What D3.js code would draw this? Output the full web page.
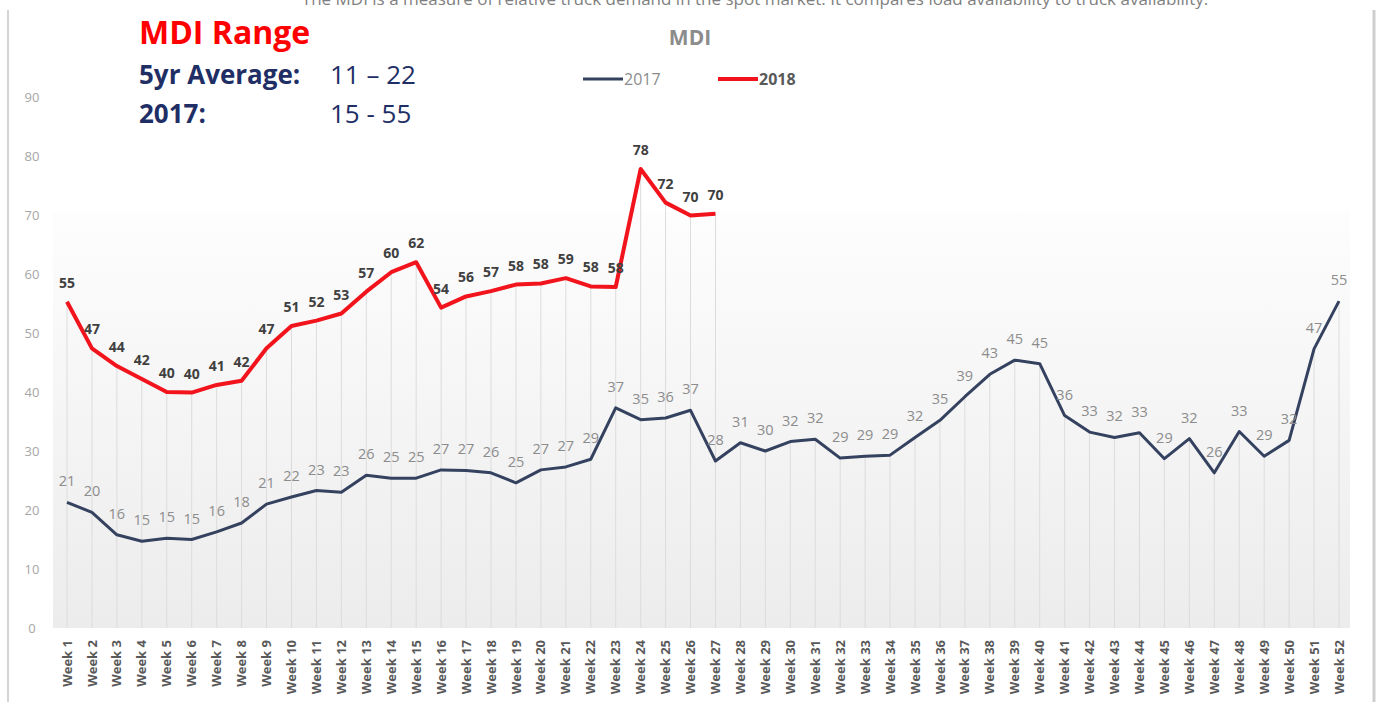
<!DOCTYPE html>
<html>
<head>
<meta charset="utf-8">
<script src="https://cdn.jsdelivr.net/npm/d3@7"></script>
<style>
  body { margin: 0; background: #fff; }
  svg { display: block; font-family: "Open Sans", sans-serif; }
</style>
</head>
<body>
<div id="chart-container"></div>
<script>
// data
var weeks = d3.range(1, 53).map(function(i) { return "Week " + i; });
var mdi2017 = [21.3, 19.6, 15.8, 14.7, 15.2, 15.0, 16.3, 17.8, 21.0, 22.2, 23.3, 23.0, 25.9, 25.4, 25.4, 26.8,
  26.7, 26.3, 24.6, 26.8, 27.3, 28.6, 37.3, 35.3, 35.6, 36.9, 28.3, 31.4, 30.0, 31.6, 32.0, 28.8,
  29.1, 29.3, 32.3, 35.2, 39.2, 43.0, 45.4, 44.8, 36.0, 33.2, 32.3, 33.1, 28.7, 32.1, 26.3, 33.3,
  29.1, 31.8, 47.3, 55.4];
var mdi2018 = [55.3, 47.4, 44.4, 42.2, 40.0, 39.9, 41.2, 41.9, 47.4, 51.2, 52.1, 53.3, 57.0, 60.3, 62.0,
  54.3, 56.2, 57.1, 58.2, 58.4, 59.3, 57.9, 57.8, 77.8, 72.1, 69.9, 70.2];
var yTicks = [0, 10, 20, 30, 40, 50, 60, 70, 80, 90];
var seriesNames = ["2017", "2018"];

var W = 1378, H = 702;
var margin = {top: 97, left: 67, right: 39, bottom: 74};

var svg = d3.select("#chart-container").append("svg")
    .attr("width", W).attr("height", H);

var x = d3.scalePoint().domain(weeks).range([margin.left, W - margin.right]);
var y = d3.scaleLinear().domain([0, 90]).range([H - margin.bottom, margin.top]);

// background gradient of the plot area
var grad = svg.append("defs").append("linearGradient")
    .attr("id", "bg").attr("x1", 0).attr("y1", 0).attr("x2", 0).attr("y2", 1);
grad.append("stop").attr("offset", "0%").attr("stop-color", "#fdfdfd");
grad.append("stop").attr("offset", "100%").attr("stop-color", "#ececec");

svg.append("rect")
    .attr("x", 53).attr("y", y(70.5))
    .attr("width", 1350 - 53).attr("height", y(0) - y(70.5))
    .attr("fill", "url(#bg)");

// frame lines
svg.append("line").attr("x1", 8).attr("x2", 8).attr("y1", 10).attr("y2", H)
    .attr("stroke", "#d4d4d4").attr("stroke-width", 2);
svg.append("line").attr("x1", 1374).attr("x2", 1374).attr("y1", 10).attr("y2", H)
    .attr("stroke", "#cfcfcf").attr("stroke-width", 3);

// drop lines
svg.append("g").selectAll("line")
    .data(weeks)
    .join("line")
    .attr("x1", function(d) { return x(d); })
    .attr("x2", function(d) { return x(d); })
    .attr("y1", function(d, i) { return y(Math.max(mdi2017[i], mdi2018[i] || 0)); })
    .attr("y2", y(0))
    .attr("stroke", "#dcdcdc")
    .attr("stroke-width", 1);

// y axis labels
svg.append("g").selectAll("text")
    .data(yTicks)
    .join("text")
    .attr("x", 32).attr("y", function(d) { return y(d); })
    .attr("dy", "0.35em")
    .attr("text-anchor", "middle")
    .attr("font-size", 13)
    .attr("fill", "#a6a6a6")
    .text(function(d) { return d; });

// x axis labels
svg.append("g").selectAll("text")
    .data(weeks)
    .join("text")
    .attr("transform", function(d) { return "translate(" + x(d) + "," + (y(0) + 12) + ") rotate(-90)"; })
    .attr("dy", "0.35em")
    .attr("text-anchor", "end")
    .attr("font-size", 13)
    .attr("font-weight", "bold")
    .attr("fill", "#595959")
    .text(function(d) { return d; });

var line = d3.line()
    .x(function(d, i) { return x(weeks[i]); })
    .y(function(d) { return y(d); });

svg.append("path").datum(mdi2017)
    .attr("d", line).attr("fill", "none")
    .attr("stroke", "#35425f").attr("stroke-width", 3)
    .attr("stroke-linejoin", "round");

svg.append("path").datum(mdi2018)
    .attr("d", line).attr("fill", "none")
    .attr("stroke", "#f2141c").attr("stroke-width", 4)
    .attr("stroke-linejoin", "round");

// data labels
svg.append("g").selectAll("text")
    .data(mdi2017)
    .join("text")
    .attr("x", function(d, i) { return x(weeks[i]); })
    .attr("y", function(d) { return y(d) - 16; })
    .attr("text-anchor", "middle")
    .attr("font-size", 14.5)
    .attr("fill", "#8c8c8c")
    .text(function(d) { return Math.round(d); });

svg.append("g").selectAll("text")
    .data(mdi2018)
    .join("text")
    .attr("x", function(d, i) { return x(weeks[i]); })
    .attr("y", function(d) { return y(d) - 14; })
    .attr("text-anchor", "middle")
    .attr("font-size", 14)
    .attr("font-weight", "bold")
    .attr("fill", "#404040")
    .text(function(d) { return Math.round(d); });

// title & legend
svg.append("text").attr("x", 690).attr("y", 45)
    .attr("text-anchor", "middle").attr("font-size", 21).attr("font-weight", "bold")
    .attr("fill", "#8c8c8c").text("MDI");

var legend = svg.append("g").selectAll("g")
    .data(seriesNames)
    .join("g")
    .attr("transform", function(d, i) { return "translate(" + (583 + i * 135) + ",79)"; });
legend.append("line").attr("x1", 0).attr("x2", 40)
    .attr("stroke", function(d, i) { return i ? "#f2141c" : "#35425f"; })
    .attr("stroke-width", function(d, i) { return i ? 4 : 3; });
legend.append("text").attr("x", 41).attr("dy", "0.35em")
    .attr("font-size", 16)
    .attr("font-weight", function(d, i) { return i ? "bold" : "normal"; })
    .attr("fill", function(d, i) { return i ? "#595959" : "#8c8c8c"; })
    .text(function(d) { return d; });

// note at the top
svg.append("text").attr("x", 755).attr("y", 5)
    .attr("text-anchor", "middle").attr("font-size", 17)
    .attr("fill", "#7f7f7f")
    .text("The MDI is a measure of relative truck demand in the spot market. It compares load availability to truck availability.");

// MDI range box
svg.append("text").attr("x", 139).attr("y", 44)
    .attr("font-size", 32).attr("font-weight", "bold").attr("fill", "#ff0000")
    .text("MDI Range");
var rangeRows = [["5yr Average:", "11 \u2013 22"], ["2017:", "15 - 55"]];
rangeRows.forEach(function(r, i) {
  svg.append("text").attr("x", 139).attr("y", 84 + i * 39)
      .attr("font-size", 26).attr("font-weight", "bold").attr("fill", "#1f2f66")
      .text(r[0]);
  svg.append("text").attr("x", 330).attr("y", 84 + i * 39)
      .attr("font-size", 26).attr("fill", "#1f2f66")
      .text(r[1]);
});
</script>
</body>
</html>
